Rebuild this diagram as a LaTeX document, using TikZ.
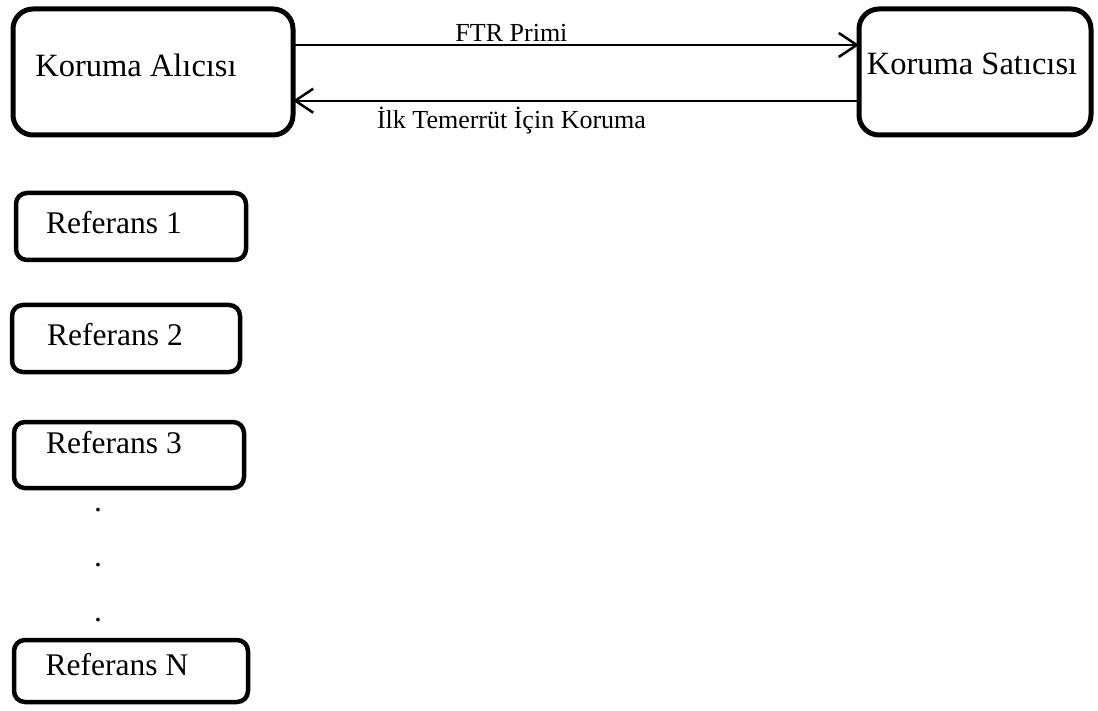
\documentclass[tikz,border=0pt]{standalone}
\usepackage{fontspec}
\setmainfont{Liberation Serif}
\usetikzlibrary{arrows.meta}
\begin{document}
\begin{tikzpicture}[x=1pt,y=-1pt,
  partybox/.style={draw=black, line width=5pt, rounded corners=20pt,
    outer sep=0pt, inner sep=0pt},
  refbox/.style={draw=black, line width=4.5pt, rounded corners=11pt,
    outer sep=0pt, inner sep=0pt},
  bigtext/.style={anchor=base, inner sep=0pt, font=\fontsize{32.5}{38}\selectfont},
  reftext/.style={anchor=base, inner sep=0pt, font=\fontsize{31.5}{37}\selectfont},
  flowtext/.style={anchor=base, inner sep=0pt, font=\fontsize{26}{31}\selectfont},
  flow/.style={line width=2pt, -{Straight Barb[length=18pt, width=24pt, line width=2.5pt]}}
]
\useasboundingbox (0,0) rectangle (1098,711);

% the two parties of the contract
\node[partybox, minimum width=280pt, minimum height=126pt] (buyer) at (153,72) {};
\node[bigtext] (buyerlbl) at (136,77) {Koruma Alıcısı};
\node[partybox, minimum width=232pt, minimum height=126pt] (seller) at (975,72) {};
\node[bigtext] (sellerlbl) at (972,75) {Koruma Satıcısı};

% premium and protection flows
\draw[flow] ([yshift=27pt]buyer.east) -- ([yshift=27pt]buyer.east -| seller.west)
  node[flowtext, pos=0.386, yshift=3pt] (premium) {FTR Primi};
\draw[flow] ([yshift=-28.7pt]buyer.east -| seller.west) -- ([yshift=-28.7pt]buyer.east)
  node[flowtext, pos=0.614, yshift=-27.5pt] (protection) {İlk Temerrüt İçin Koruma};

% reference entities
\node[refbox, minimum width=230pt, minimum height=67pt] (ref1) at (131,226.5) {};
\node[reftext] (ref1lbl) at (114,234) {Referans 1};
\node[refbox, minimum width=228pt, minimum height=67pt] (ref2) at (126,338.5) {};
\node[reftext] (ref2lbl) at (115,345) {Referans 2};
\node[refbox, minimum width=230pt, minimum height=66pt] (ref3) at (129,455) {};
\node[reftext] (ref3lbl) at (114,453) {Referans 3};
\node[reftext] (dot1) at (98,511) {.};
\node[reftext] (dot2) at (98,566) {.};
\node[reftext] (dot3) at (98,621) {.};
\node[refbox, minimum width=234pt, minimum height=62pt] (refN) at (131,671) {};
\node[reftext] (refNlbl) at (117,675) {Referans N};
\end{tikzpicture}
\end{document}
